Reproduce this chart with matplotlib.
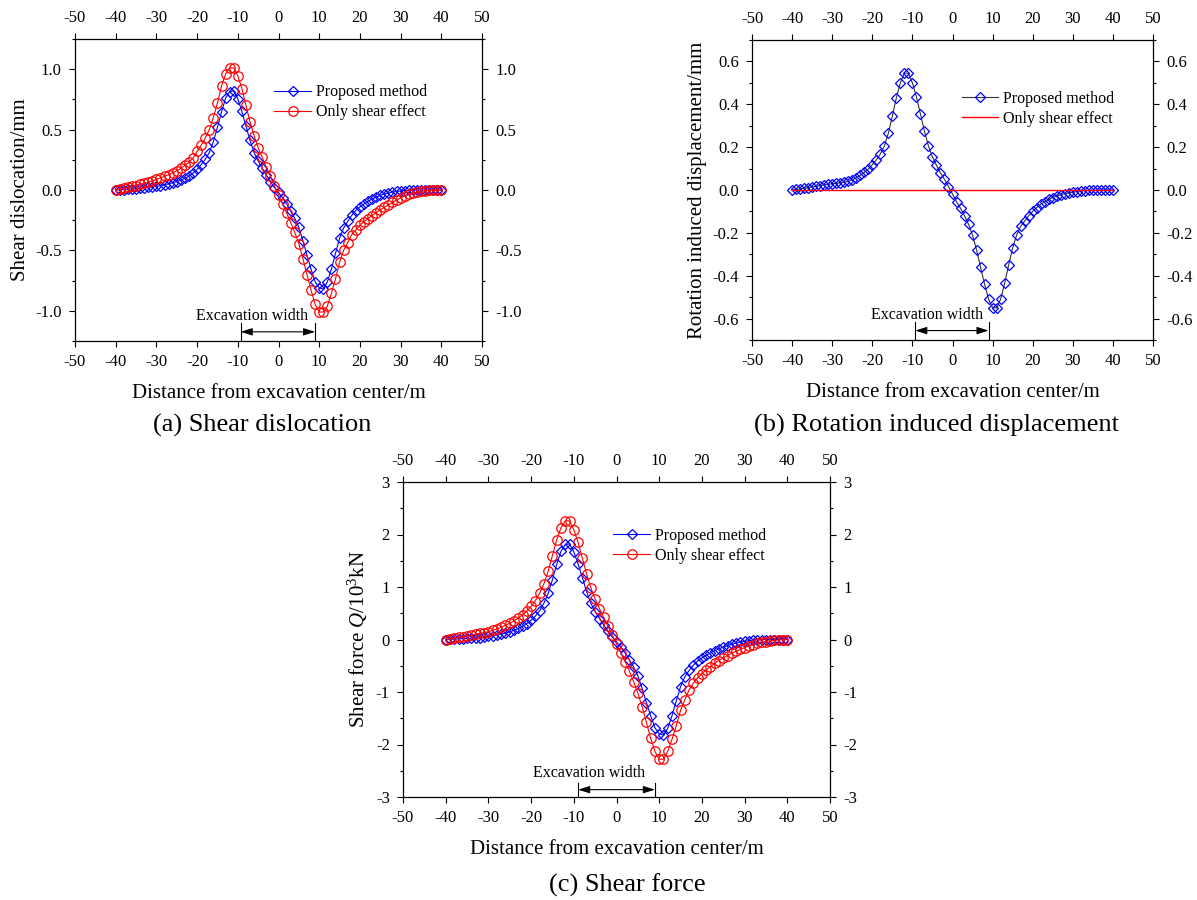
import matplotlib
matplotlib.use('Agg')
import matplotlib.pyplot as plt
from matplotlib.ticker import MultipleLocator, FormatStrFormatter

plt.rcParams['font.family'] = ['Liberation Serif', 'DejaVu Serif']
plt.rcParams['mathtext.fontset'] = 'custom'
plt.rcParams['mathtext.rm'] = 'Liberation Serif'
plt.rcParams['mathtext.it'] = 'Liberation Serif:italic'
plt.rcParams['axes.unicode_minus'] = False

# distance from excavation center (m)
x = list(range(-40, 41))

# (a) shear dislocation, mm
proposed_a = [0.000, 0.002, 0.004, 0.006, 0.008, 0.011, 0.014, 0.017, 0.021, 0.025,
              0.030, 0.036, 0.043, 0.051, 0.060, 0.070, 0.082, 0.097, 0.115, 0.140,
              0.170, 0.210, 0.255, 0.310, 0.400, 0.520, 0.645, 0.760, 0.815, 0.820,
              0.755, 0.650, 0.530, 0.410, 0.310, 0.240, 0.180, 0.125, 0.070, 0.020,
              -0.020, -0.065, -0.115, -0.175, -0.235, -0.310, -0.420, -0.540, -0.655, -0.760,
              -0.810, -0.820, -0.760, -0.655, -0.525, -0.400, -0.315, -0.260, -0.210, -0.170,
              -0.140, -0.115, -0.093, -0.074, -0.058, -0.045, -0.034, -0.025, -0.018, -0.012,
              -0.008, -0.005, -0.003, -0.001, 0.000, 0.000, 0.000, 0.000, 0.000, 0.000, 0.000]
shear_only_a = [0.000, 0.007, 0.014, 0.021, 0.029, 0.037, 0.046, 0.055, 0.065, 0.075,
                0.088, 0.100, 0.113, 0.127, 0.142, 0.160, 0.180, 0.203, 0.230, 0.265,
                0.320, 0.370, 0.430, 0.500, 0.600, 0.720, 0.860, 0.960, 1.010, 1.010,
                0.945, 0.840, 0.700, 0.565, 0.450, 0.350, 0.270, 0.190, 0.115, 0.035,
                -0.040, -0.115, -0.190, -0.270, -0.350, -0.445, -0.570, -0.700, -0.830, -0.945,
                -1.010, -1.010, -0.960, -0.855, -0.735, -0.600, -0.500, -0.435, -0.370, -0.330,
                -0.290, -0.262, -0.236, -0.212, -0.188, -0.165, -0.144, -0.124, -0.103, -0.083,
                -0.066, -0.050, -0.037, -0.026, -0.017, -0.011, -0.007, -0.004, -0.002, -0.001, 0.000]

# (b) rotation induced displacement, mm
proposed_b = [0.000, 0.003, 0.005, 0.008, 0.011, 0.014, 0.017, 0.021, 0.024, 0.027,
              0.029, 0.031, 0.033, 0.036, 0.040, 0.047, 0.057, 0.068, 0.082, 0.098,
              0.118, 0.140, 0.168, 0.205, 0.265, 0.345, 0.430, 0.500, 0.545, 0.545,
              0.500, 0.435, 0.355, 0.275, 0.205, 0.155, 0.115, 0.080, 0.050, 0.016,
              -0.019, -0.055, -0.085, -0.120, -0.160, -0.210, -0.280, -0.360, -0.440, -0.510,
              -0.550, -0.550, -0.510, -0.435, -0.350, -0.270, -0.210, -0.170, -0.145, -0.120,
              -0.100, -0.082, -0.067, -0.055, -0.044, -0.035, -0.028, -0.022, -0.017, -0.013,
              -0.010, -0.007, -0.005, -0.003, -0.002, -0.001, -0.001, 0.000, 0.000, 0.000, 0.000]
shear_only_b_x = [-40, 40]
shear_only_b = [0.0, 0.0]

# (c) shear force, 10^3 kN
proposed_c = [0.000, 0.003, 0.007, 0.011, 0.015, 0.020, 0.025, 0.031, 0.038, 0.046,
              0.060, 0.072, 0.086, 0.103, 0.123, 0.147, 0.176, 0.211, 0.253, 0.303,
              0.365, 0.445, 0.550, 0.690, 0.880, 1.140, 1.430, 1.680, 1.810, 1.820,
              1.670, 1.440, 1.180, 0.910, 0.690, 0.530, 0.400, 0.280, 0.160, 0.045,
              -0.045, -0.145, -0.255, -0.385, -0.520, -0.690, -0.930, -1.200, -1.450, -1.680,
              -1.800, -1.820, -1.690, -1.450, -1.170, -0.900, -0.710, -0.590, -0.490, -0.410,
              -0.350, -0.300, -0.255, -0.215, -0.178, -0.145, -0.115, -0.090, -0.068, -0.050,
              -0.035, -0.023, -0.014, -0.008, -0.004, -0.002, 0.000, 0.000, 0.000, 0.000, 0.000]
shear_only_c = [0.000, 0.013, 0.026, 0.040, 0.054, 0.068, 0.083, 0.099, 0.116, 0.133,
                0.150, 0.175, 0.203, 0.235, 0.270, 0.310, 0.355, 0.405, 0.470, 0.545,
                0.630, 0.740, 0.880, 1.060, 1.300, 1.600, 1.900, 2.130, 2.260, 2.260,
                2.090, 1.850, 1.550, 1.250, 0.980, 0.770, 0.590, 0.420, 0.250, 0.085,
                -0.085, -0.250, -0.420, -0.600, -0.800, -1.020, -1.280, -1.580, -1.880, -2.130,
                -2.280, -2.280, -2.130, -1.900, -1.640, -1.350, -1.150, -0.960, -0.830, -0.730,
                -0.650, -0.580, -0.515, -0.455, -0.400, -0.350, -0.305, -0.262, -0.223, -0.188,
                -0.155, -0.125, -0.098, -0.075, -0.055, -0.039, -0.026, -0.016, -0.008, -0.003, 0.000]

W, H = 1197, 900
fig = plt.figure(figsize=(W / 100, H / 100), dpi=100)


def box(left, top, right, bottom):
    return [left / W, 1 - bottom / H, (right - left) / W, (bottom - top) / H]


def style(ax, ylim, major, minor, fmt, ylabel):
    ax.set_xlim(-50, 50)
    ax.set_xticks(range(-50, 51, 10))
    ax.set_ylim(*ylim)
    ax.yaxis.set_major_locator(MultipleLocator(major))
    ax.yaxis.set_minor_locator(MultipleLocator(minor))
    ax.yaxis.set_major_formatter(FormatStrFormatter(fmt))
    ax.tick_params(which='both', direction='out', top=True, right=True,
                   labeltop=True, labelright=True, labelsize=12, width=0.8, pad=5)
    ax.tick_params(which='major', length=4.5)
    ax.tick_params(which='minor', length=2.5)
    for s in ax.spines.values():
        s.set_linewidth(0.9)
    ax.set_xlabel('Distance from excavation center/m', fontsize=15, labelpad=10)
    ax.set_ylabel(ylabel, fontsize=15, labelpad=4)


def excavation(ax, x0, x1, ytext, yarrow, ybar_top, ybot):
    ax.text(-6.4, ytext, 'Excavation width', fontsize=11.5, ha='center', va='center')
    ax.annotate('', xy=(x1, yarrow), xytext=(x0, yarrow),
                arrowprops=dict(arrowstyle='<|-|>,head_length=0.7,head_width=0.22',
                                color='black', lw=0.8, shrinkA=0, shrinkB=0, mutation_scale=10))
    for xb in (x0, x1):
        ax.plot([xb, xb], [ybar_top, ybot], color='black', lw=0.8)


blue_kw = dict(color='blue', lw=0.8, marker='D', mfc='none', mec='blue', ms=5.2, mew=0.9)
red_kw = dict(color='red', lw=0.8, marker='o', mfc='none', mec='red', ms=6.8, mew=0.9)

# (a)
ax = fig.add_axes(box(75, 39, 482, 341))
ax.plot(x, proposed_a, label='Proposed method', **blue_kw)
ax.plot(x, shear_only_a, label='Only shear effect', **red_kw)
style(ax, (-1.25, 1.25), 0.5, 0.25, '%.1f', 'Shear dislocation/mm')
excavation(ax, -9.3, 9.0, -1.04, -1.174, -1.10, -1.25)
ax.legend(loc='upper left', bbox_to_anchor=(0.49, 0.85), frameon=False, fontsize=11.5,
          borderpad=0, borderaxespad=0, handlelength=2.3, handletextpad=0.3, labelspacing=0.25)

# (b)
ax = fig.add_axes(box(752, 40, 1153, 340))
ax.plot(x, proposed_b, label='Proposed method', color='#333333', lw=0.8, marker='D',
        mfc='none', mec='blue', ms=5.2, mew=0.9)
ax.plot(shear_only_b_x, shear_only_b, label='Only shear effect', color='red', lw=1.0)
style(ax, (-0.7, 0.7), 0.2, 0.1, '%.1f', 'Rotation induced displacement/mm')
excavation(ax, -9.3, 9.0, -0.583, -0.656, -0.617, -0.7)
ax.legend(loc='upper left', bbox_to_anchor=(0.523, 0.83), frameon=False, fontsize=11.5,
          borderpad=0, borderaxespad=0, handlelength=2.3, handletextpad=0.3, labelspacing=0.25)

# (c)
ax = fig.add_axes(box(403, 482, 830, 797))
ax.plot(x, proposed_c, label='Proposed method', **blue_kw)
ax.plot(x, shear_only_c, label='Only shear effect', **red_kw)
style(ax, (-3, 3), 1, 0.5, '%d', 'Shear force $Q$/10$^3$kN')
excavation(ax, -9.0, 9.0, -2.55, -2.86, -2.73, -3.0)
ax.legend(loc='upper left', bbox_to_anchor=(0.4925, 0.855), frameon=False, fontsize=11.5,
          borderpad=0, borderaxespad=0, handlelength=2.3, handletextpad=0.3, labelspacing=0.25)

fig.text(262 / W, 1 - 425 / H, '(a) Shear dislocation', fontsize=19, ha='center', va='center')
fig.text(937 / W, 1 - 425 / H, '(b) Rotation induced displacement', fontsize=19, ha='center', va='center')
fig.text(627 / W, 1 - 885 / H, '(c) Shear force', fontsize=19, ha='center', va='center')

fig.savefig('out.png', dpi=100)
